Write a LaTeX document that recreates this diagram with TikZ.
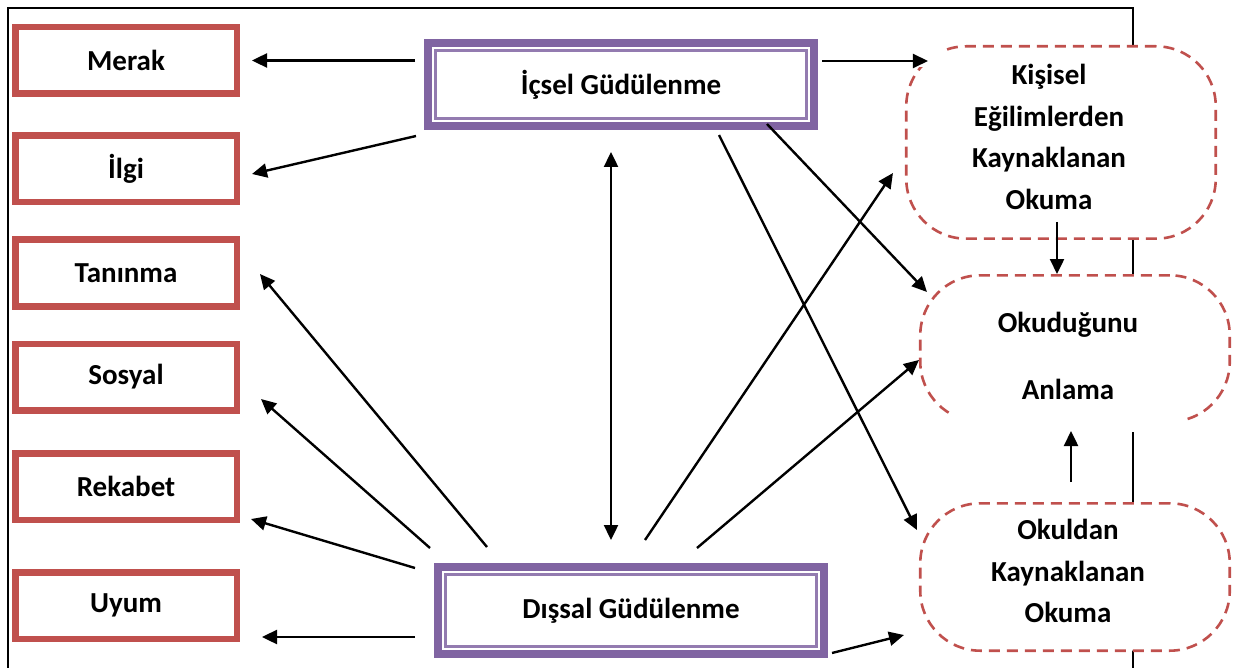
\documentclass[tikz,border=0pt]{standalone}
\usepackage{fontspec}
\setmainfont{Carlito}
\usetikzlibrary{arrows.meta,calc}
\definecolor{boxred}{HTML}{C0504D}
\definecolor{boxpurple}{HTML}{8064A2}
\begin{document}
\begin{tikzpicture}[x=1pt,y=-1pt,
  lbl/.style={font=\fontsize{29}{41.5}\selectfont\bfseries, align=center},
  redbox/.style={draw=boxred, line width=6.5pt, fill=white, minimum width=221.5pt, minimum height=66.5pt, inner sep=0pt, lbl},
  purplebox/.style={draw=boxpurple, line width=8pt, fill=white, minimum width=386pt, inner sep=0pt, lbl},
  innerline/.style={draw=boxpurple!85, line width=2.2pt},
  dashbox/.style={draw=boxred, line width=2.6pt, dash pattern=on 11pt off 7pt, rounded corners=60pt, fill=white, minimum width=309.5pt, inner sep=0pt},
  arr/.style={draw=black, line width=2.4pt, -{Triangle[length=15pt,width=14pt]}},
  dblarr/.style={draw=black, line width=2.4pt, {Triangle[length=15pt,width=14pt]}-{Triangle[length=15pt,width=14pt]}},
  frameline/.style={draw=black, line width=2.2pt},
  patch/.style={fill=white, draw=none}
]
\useasboundingbox (0,0) rectangle (1241,668);

% outer frame
\coordinate (fbl) at (8,668);
\coordinate (ftl) at (8,8);
\coordinate (ftr) at (1133,8);
\coordinate (fbr) at (1133,668);
\draw[frameline] (fbl) -- (ftl) -- (ftr) -- (fbr);

% left boxes
\node[redbox] (merak)   at (126,60.5)  {Merak};
\node[redbox] (ilgi)    at (126,169)   {İlgi};
\node[redbox] (taninma) at (126,273)   {Tanınma};
\node[redbox] (sosyal)  at (126,377)   {Sosyal};
\node[redbox] (rekabet) at (126,486.5) {Rekabet};
\node[redbox] (uyum)    at (126,605.5) {Uyum};

% central boxes
\node[purplebox, minimum height=83pt] (icsel)  at (621,84.5)  {İçsel Güdülenme};
\draw[innerline] ($(icsel.south west)+(11.5pt,11.5pt)$) rectangle ($(icsel.north east)+(-11.5pt,-11.5pt)$);
\node[purplebox, minimum height=87pt] (dissal) at (631,610.5) {Dışsal Güdülenme};
\draw[innerline] ($(dissal.south west)+(11.5pt,11.5pt)$) rectangle ($(dissal.north east)+(-11.5pt,-11.5pt)$);

% right boxes
\node[dashbox, minimum height=192.4pt] (kisisel)   at (1061,142.5) {};
\node[dashbox, minimum height=146.4pt] (okudugunu) at (1075,348.5) {};
\node[dashbox, minimum height=147.4pt] (okuldan)   at (1075,577)   {};
\fill[patch] (950,414) rectangle (1182,432);
\fill[patch] (902,42) rectangle (945,67);

\node[lbl] (kisiselT)   at (1049,137) {Kişisel\\Eğilimlerden\\Kaynaklanan\\Okuma};
\node[lbl] (okudugunuT) at (1068,356) {Okuduğunu\\[25pt]Anlama};
\node[lbl] (okuldanT)   at (1068,571) {Okuldan\\Kaynaklanan\\Okuma};

% arrows to the left
\draw[arr] ($(icsel.west |- merak.east)+(-9pt,0pt)$) -- ($(merak.east)+(12pt,0pt)$);
\draw[arr] ($(icsel.south west)+(-8pt,-6pt)$) -- ($(ilgi.east)+(12pt,-5pt)$);
\draw[arr] ($(dissal.north west)+(53pt,16pt)$) -- ($(taninma.east)+(20pt,-1pt)$);
\draw[arr] ($(dissal.north west)+(-4pt,15pt)$) -- ($(sosyal.east)+(21pt,-22pt)$);
\draw[arr] ($(dissal.north west)+(-19pt,-5pt)$) -- ($(rekabet.east)+(11pt,-32.5pt)$);
\draw[arr] ($(dissal.west)+(-19pt,-26.5pt)$) -- ($(uyum.east)+(22pt,-31.5pt)$);

% vertical double arrow
\draw[dblarr] ($(icsel.south)+(-10pt,-22pt)$) -- ($(dissal.north)+(-20pt,23pt)$);

% arrows to the right
\draw[arr] ($(icsel.east)+(4pt,23.5pt)$) -- ($(kisisel.west)+(23pt,81.5pt)$);
\draw[arr] ($(icsel.south)+(98pt,-5pt)$) -- ($(okuldan.west)+(-2pt,47pt)$);
\draw[arr] ($(icsel.south)+(146pt,6pt)$) -- ($(okudugunu.west)+(8pt,56.5pt)$);
\draw[arr] ($(dissal.north)+(14pt,23pt)$) -- ($(kisisel.west)+(-12pt,-30.5pt)$);
\draw[arr] ($(dissal.north)+(66pt,15pt)$) -- ($(okudugunu.west)+(0pt,-11.5pt)$);
\draw[arr] ($(dissal.east)+(4pt,-42.5pt)$) -- ($(okuldan.west)+(-15pt,-58pt)$);

% vertical arrows between right boxes
\draw[arr] ($(kisisel.south)+(-4pt,18pt)$) -- ($(okudugunu.north)+(-18pt,0pt)$);
\draw[arr] ($(okuldan.north)+(-4pt,20pt)$) -- ($(okudugunu.south)+(-4pt,-8pt)$);
\end{tikzpicture}
\end{document}
